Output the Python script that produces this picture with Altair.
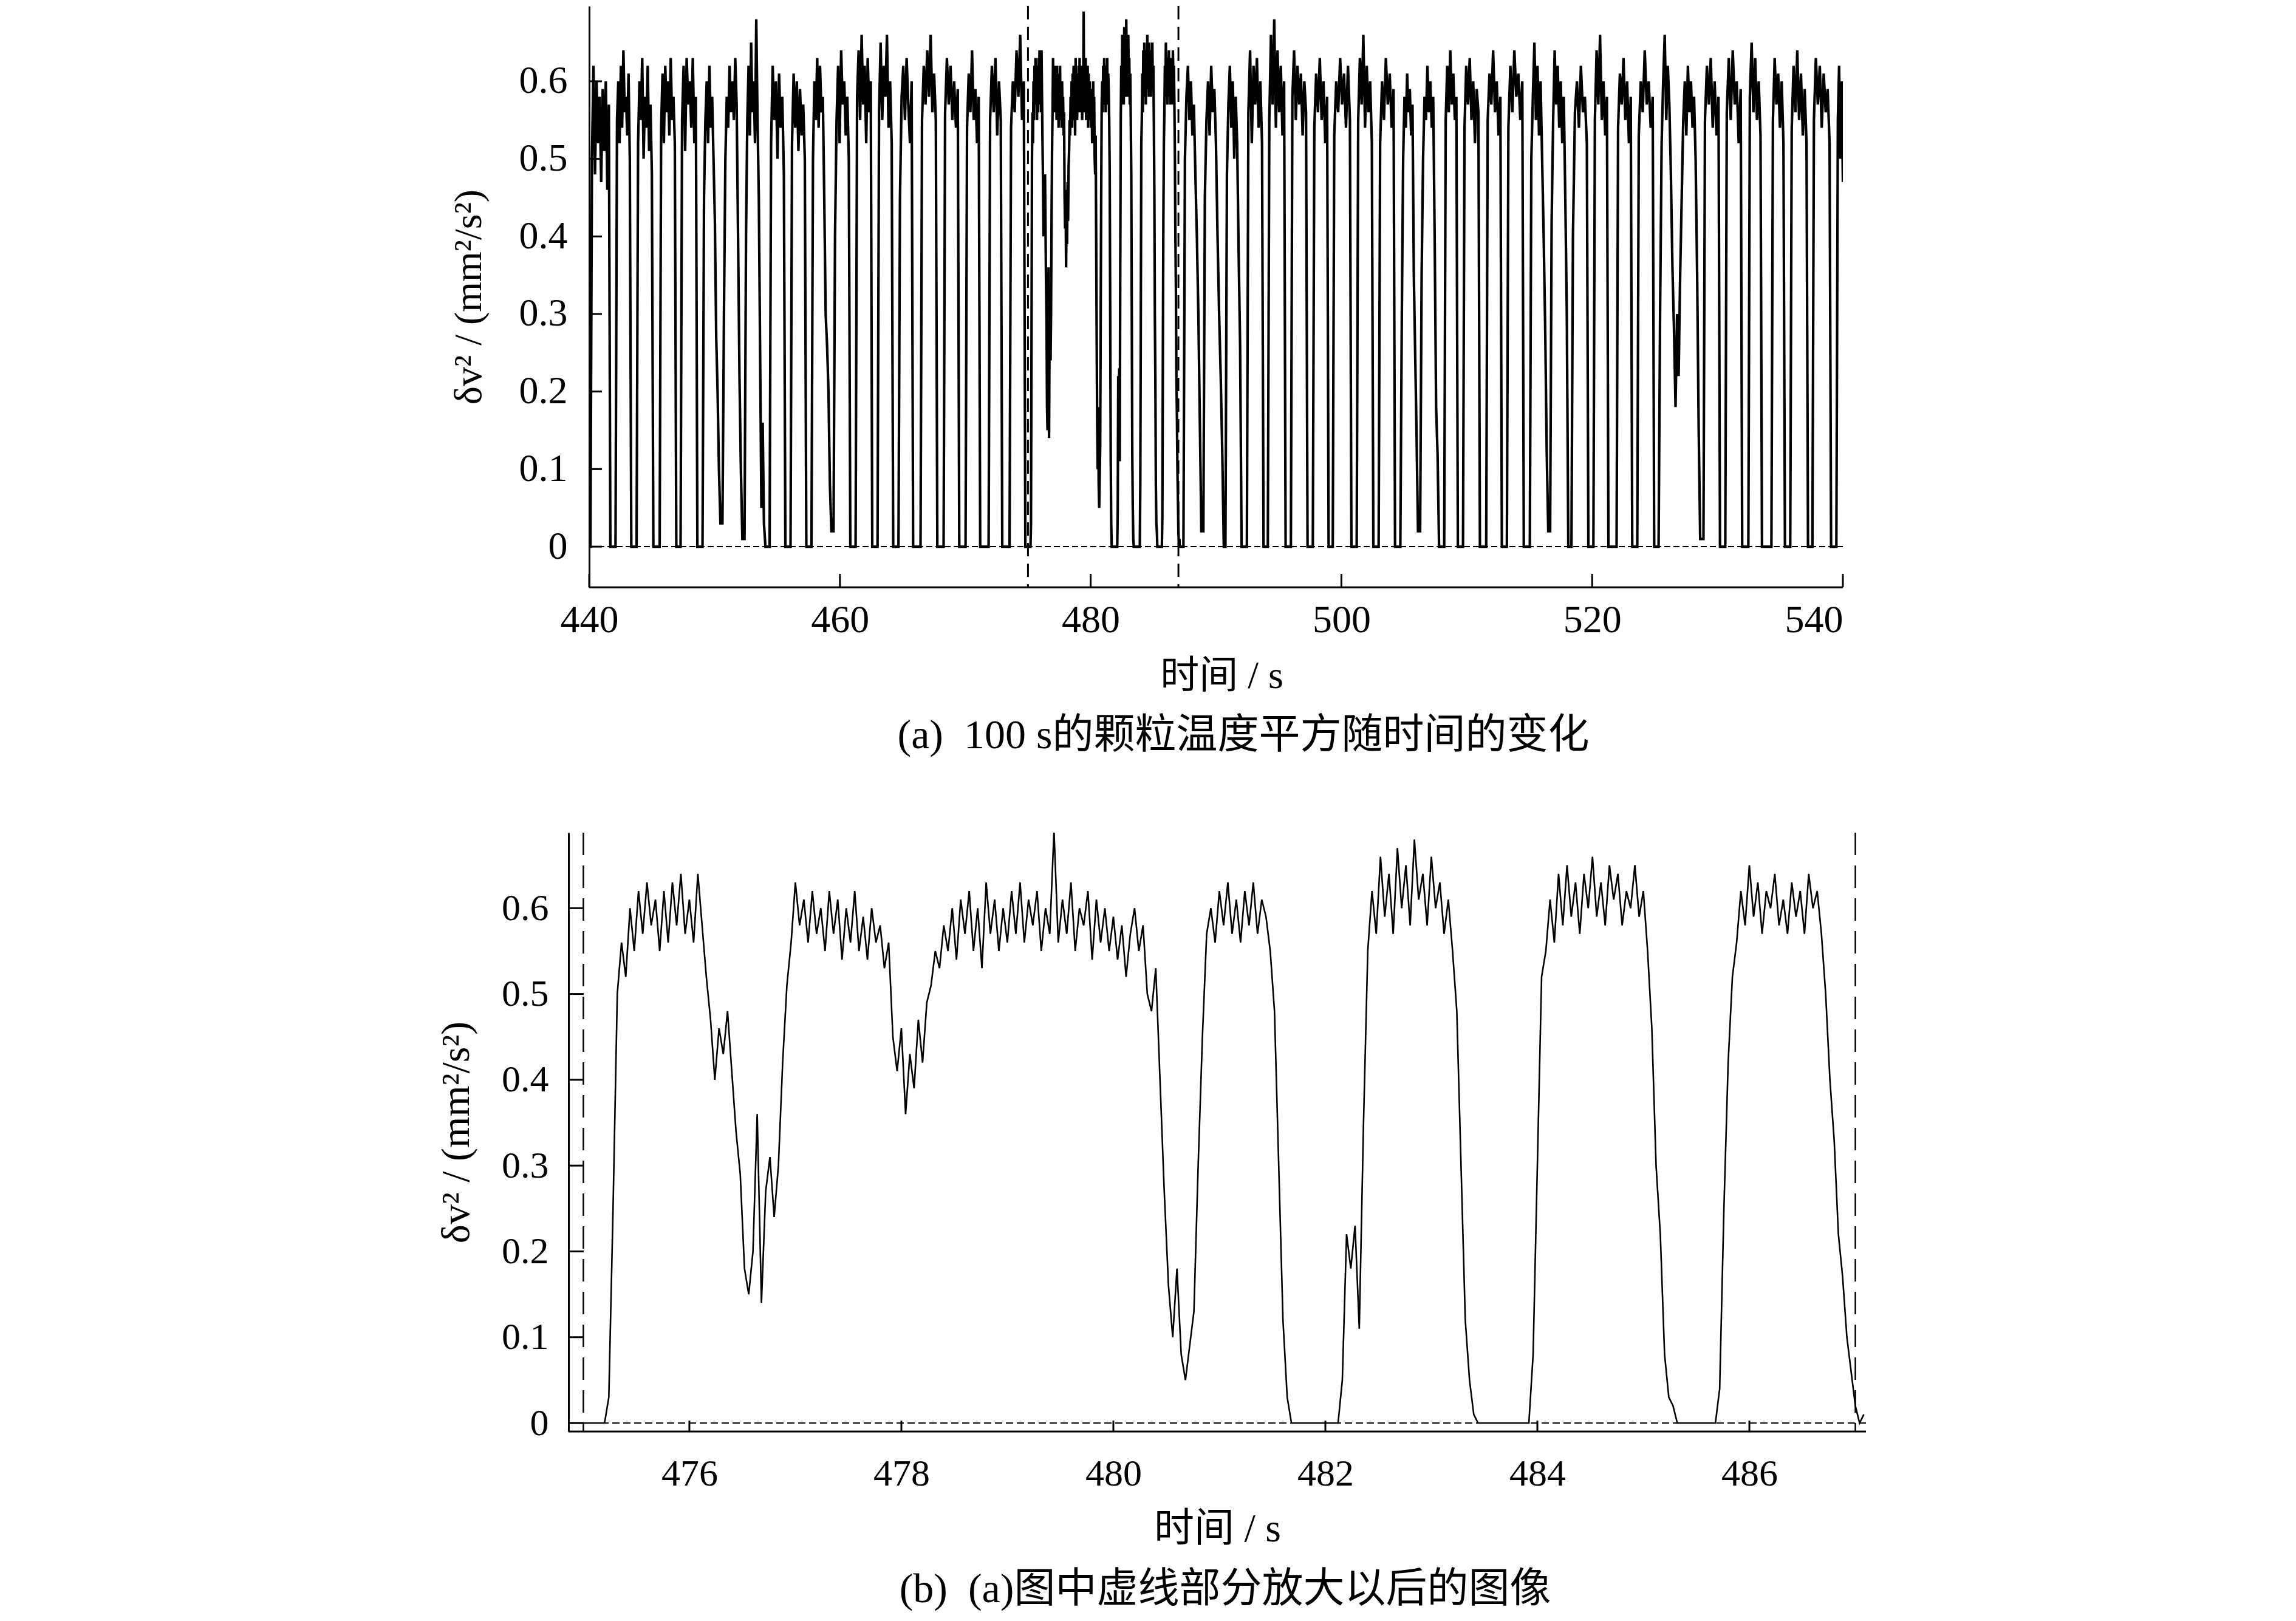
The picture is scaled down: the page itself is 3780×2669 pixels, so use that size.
import altair as alt
import pandas as pd

# ---------------- data ----------------
# panel (b): δv² in 0.01 mm²/s², sampled every 0.04 s starting at 474.88 s
b_t0 = 474.88
b_dt = 0.04
b_vals = [
    0, 0, 0, 0, 0, 0, 0, 0, 0, 3, 25, 50, 56, 52, 60, 55, 62, 57, 63, 58, 61, 55, 62, 56, 63,
    58, 64, 57, 61, 56, 64, 58, 52, 47, 40, 46, 43, 48, 41, 34, 29, 18, 15, 20, 36, 14, 27, 31, 24, 30,
    42, 51, 56, 63, 58, 61, 56, 62, 57, 60, 55, 62, 57, 61, 54, 60, 56, 62, 55, 59, 54, 60, 56, 58, 53,
    56, 45, 41, 46, 36, 43, 39, 47, 42, 49, 51, 55, 53, 58, 55, 60, 54, 61, 57, 62, 55, 60, 53, 63, 57,
    61, 55, 60, 56, 62, 57, 63, 56, 61, 58, 62, 55, 60, 57, 69, 56, 61, 57, 63, 55, 60, 58, 62, 54, 61,
    56, 60, 55, 59, 54, 58, 52, 57, 60, 55, 58, 50, 48, 53, 40, 27, 16, 10, 18, 8, 5, 9, 13, 30, 45,
    57, 60, 56, 62, 58, 63, 57, 61, 56, 62, 58, 63, 57, 61, 59, 55, 48, 30, 12, 3, 0, 0, 0, 0, 0,
    0, 0, 0, 0, 0, 0, 0, 5, 22, 18, 23, 11, 35, 55, 62, 57, 66, 59, 64, 57, 67, 60, 65, 58, 68,
    61, 64, 58, 66, 60, 63, 57, 61, 55, 48, 30, 12, 5, 1, 0, 0, 0, 0, 0, 0, 0, 0, 0, 0, 0,
    0, 0, 8, 30, 52, 55, 61, 56, 64, 58, 65, 59, 63, 57, 64, 60, 66, 59, 63, 58, 65, 61, 64, 58, 62,
    60, 65, 59, 62, 55, 46, 30, 22, 8, 3, 2, 0, 0, 0, 0, 0, 0, 0, 0, 0, 0, 4, 25, 42, 52,
    56, 62, 58, 65, 59, 63, 57, 62, 60, 64, 58, 61, 57, 63, 59, 62, 57, 64, 60, 62, 57, 50, 40, 33, 22,
    17, 10, 6, 2, 0, 1,
]

# panel (a), 440–475 s: troughs (start, end, floor in 0.01) and plateau samples between them
a1_start = [440.00, 441.69, 443.36, 445.12, 446.95, 448.63, 450.47, 452.22, 454.06, 455.65,
            457.32, 459.32, 460.83, 462.58, 464.25, 465.84, 467.77, 469.52, 471.19, 472.95, 474.79]
a1_end = [440.10, 442.10, 443.78, 445.62, 447.29, 449.04, 450.63, 452.39, 454.39, 456.06,
          457.73, 459.49, 461.25, 463.00, 464.67, 466.43, 468.27, 470.02, 471.86, 473.53, 474.84]
a1_floor = [0, 0, 0, 0, 0, 0, 3, 1, 0, 0, 0, 2, 0, 0, 0, 0, 0, 0, 0, 0, 0]
a1_plateau = [
    [50, 62, 48, 60, 52, 58, 47, 59, 51, 60, 46, 57],
    [55, 60, 52, 62, 54, 64, 56, 58, 53, 61, 50],
    [52, 60, 55, 63, 50, 58, 54, 62, 51, 57, 48],
    [54, 61, 52, 62, 56, 60, 53, 63, 55, 58, 52],
    [55, 62, 51, 63, 57, 60, 54, 63, 52, 58],
    [45, 55, 60, 52, 62, 54, 58, 50, 42, 27, 20, 10],
    [30, 50, 58, 54, 62, 56, 60, 55, 63, 57, 40, 22, 10],
    [40, 55, 62, 53, 65, 56, 60, 52, 68, 55, 45, 25, 5, 16, 3],
    [52, 62, 55, 60, 50, 61, 54, 58, 48],
    [52, 61, 54, 60, 51, 59, 53, 57, 50],
    [50, 60, 55, 63, 54, 62, 56, 58, 45, 30, 26, 20, 8],
    [40, 55, 62, 52, 64, 57, 60, 53, 58, 50],
    [58, 64, 55, 66, 57, 62, 52, 63, 56, 60],
    [56, 65, 55, 62, 58, 66, 54, 60, 52],
    [45, 58, 62, 55, 63, 57, 52, 60],
    [55, 62, 57, 64, 58, 66, 56, 61, 55],
    [56, 63, 57, 62, 55, 60, 54, 59],
    [54, 61, 56, 64, 55, 59, 52, 58],
    [55, 62, 56, 63, 53, 60, 55],
    [54, 60, 56, 64, 58, 66, 55, 60],
]

# panel (a), 487–540 s
a2_start = [487.10, 488.83, 490.62, 492.04, 493.79, 495.55, 497.30, 498.98, 500.80, 502.55,
            504.28, 506.11, 507.79, 509.29, 511.05, 512.80, 514.55, 516.50, 518.10, 519.70,
            521.30, 523.20, 524.95, 528.62, 530.20, 531.97, 533.55, 535.38, 537.22, 539.06]
a2_end = [487.40, 488.99, 490.75, 492.46, 494.13, 495.97, 497.72, 499.31, 501.22, 502.97,
          504.70, 506.28, 508.20, 509.70, 511.55, 513.20, 515.03, 516.65, 518.35, 520.10,
          521.95, 523.60, 525.30, 528.88, 530.62, 532.46, 534.30, 535.80, 537.57, 539.48]
a2_floor = [0, 2, 0, 0, 0, 0, 0, 0, 0, 0, 0, 2, 0, 0, 0, 0, 0, 2, 0, 0, 0, 0, 0, 1, 0, 0, 0, 0, 0, 0]
a2_plateau = [
    [50, 58, 62, 55, 60, 53, 57, 48, 40, 30, 16],
    [45, 55, 60, 53, 62, 56, 59, 52, 40, 30, 22, 12],
    [48, 57, 62, 54, 60, 50, 58, 52, 38, 26],
    [56, 64, 52, 62, 57, 63, 54, 60, 52],
    [55, 66, 57, 68, 54, 64, 56, 62, 53, 60],
    [58, 64, 55, 62, 57, 61, 53, 60, 56],
    [54, 61, 56, 63, 55, 60, 52, 58],
    [53, 60, 56, 63, 57, 61, 54, 62, 55],
    [55, 63, 57, 66, 54, 62, 56, 60, 52],
    [52, 60, 55, 63, 57, 61, 54, 59],
    [30, 50, 58, 54, 61, 56, 59, 53, 57, 35, 25, 15],
    [35, 50, 58, 55, 62, 56, 60, 54, 58, 40, 18, 12],
    [55, 62, 56, 64, 57, 61, 55, 58],
    [54, 62, 57, 63, 55, 60, 52, 59, 56],
    [55, 61, 57, 64, 56, 60, 53, 58],
    [54, 62, 56, 64, 58, 61, 55, 60],
    [50, 58, 65, 55, 62, 53, 60, 50, 40, 28, 12],
    [42, 55, 64, 57, 62, 54, 60, 52, 58, 45, 30],
    [40, 56, 60, 54, 62, 56, 58, 52],
    [55, 64, 57, 66, 55, 60, 53, 58],
    [54, 61, 57, 63, 55, 60, 52, 58],
    [53, 60, 56, 64, 57, 60, 54, 58],
    [30, 52, 60, 66, 55, 62, 57, 48, 36, 28, 18, 30, 22, 35, 45, 55, 60, 53, 62, 56, 60, 54, 58, 50, 35, 15],
    [55, 62, 57, 63, 54, 60, 53, 58],
    [56, 63, 55, 64, 57, 60, 52, 59],
    [58, 65, 56, 63, 55, 60, 53],
    [55, 63, 57, 61, 54, 60, 52],
    [54, 62, 56, 64, 55, 61, 53, 59, 52],
    [55, 63, 57, 62, 54, 61, 56, 59, 52],
    [55, 62, 50, 60, 47],
]
a_end_time = 540.0

dash_t = [475, 487]
a_xticks = [440, 460, 480, 500, 520, 540]
b_xticks = [476, 478, 480, 482, 484, 486]
y_ticks = [0, 0.1, 0.2, 0.3, 0.4, 0.5, 0.6]

y_title = "δv² / (mm²/s²)"
x_title = "时间 / s"
cap_a = "(a)\u00a0 100 s的颗粒温度平方随时间的变化"
cap_b = "(b)\u00a0 (a)图中虚线部分放大以后的图像"

FONT = "Liberation Serif, Noto Sans CJK SC"
RISE = 0.12


def build(starts, ends, floors, plateaus, t_end=None):
    ts, vs = [], []
    for k in range(len(starts)):
        ts += [starts[k], ends[k]]
        vs += [floors[k], floors[k]]
        if k < len(plateaus):
            t0 = ends[k] + RISE
            t1 = starts[k + 1] - RISE if k + 1 < len(starts) else t_end
            vals = plateaus[k]
            n = len(vals)
            for j, v in enumerate(vals):
                ts.append(t0 + (t1 - t0) * j / (n - 1))
                vs.append(v)
    return ts, vs


b_ts = [b_t0 + b_dt * i for i in range(len(b_vals))]
a1_t, a1_v = build(a1_start, a1_end, a1_floor, a1_plateau)
a2_t, a2_v = build(a2_start, a2_end, a2_floor, a2_plateau, a_end_time)

df_a = pd.DataFrame({"t": a1_t + b_ts + a2_t, "v": [x / 100 for x in a1_v + b_vals + a2_v]})
df_a["i"] = range(len(df_a))
df_b = pd.DataFrame({"t": b_ts, "v": [x / 100 for x in b_vals]})
df_b["i"] = range(len(df_b))


def panel(df, x_lo, x0, x1, ydom, W, H, yoff, xticks, lw, lab_size, title_size, ytitle_pad,
          ylab_pad, xlab_pad, xtitle_pad, xtitle_x, cap, cap_off, cap_dx, vdash, hdash,
          ytick_len, xtick_len, dash_w):
    px = W / (x1 - x_lo)  # pixels per second
    xs = alt.Scale(domain=[x_lo, x1], nice=False, zero=False)
    ys = alt.Scale(domain=ydom, nice=False, zero=False)
    xaxis = dict(values=xticks, title=x_title, labelPadding=xlab_pad, titlePadding=xtitle_pad,
                 labelFontSize=lab_size, titleFontSize=title_size, format="d", domain=False)
    if xtitle_x is not None:
        xaxis["titleX"] = xtitle_x
    line = alt.Chart(df).mark_line(color="black", strokeWidth=lw, clip=True).encode(
        x=alt.X("t:Q", scale=xs, axis=alt.Axis(**xaxis)),
        y=alt.Y("v:Q", scale=ys, axis=alt.Axis(
            values=y_ticks, title=y_title, format=".1~f", labelFontSize=lab_size,
            titleFontSize=title_size, titlePadding=ytitle_pad, labelPadding=ylab_pad,
            offset=yoff)),
        order="i:Q",
    )
    frame = pd.DataFrame({"t": [x0], "t2": [x1], "v": [0]})
    xline = alt.Chart(frame).mark_rule(color="black", strokeWidth=3).encode(
        x="t:Q", x2="t2:Q", y=alt.value(H))
    hd = alt.Chart(frame).mark_rule(color="black", strokeWidth=2, strokeDash=hdash).encode(
        x="t:Q", x2="t2:Q", y="v:Q")
    vd = alt.Chart(pd.DataFrame({"t": dash_t})).mark_rule(
        color="black", strokeWidth=dash_w, strokeDash=vdash).encode(
        x="t:Q", y=alt.value(0), y2=alt.value(H))
    ytk = alt.Chart(pd.DataFrame({"v": y_ticks, "t": x0, "t2": x0 + ytick_len / px})).mark_rule(
        color="black", strokeWidth=3).encode(y="v:Q", x="t:Q", x2="t2:Q")
    xtk = alt.Chart(pd.DataFrame({"t": xticks})).mark_rule(
        color="black", strokeWidth=3).encode(
        x="t:Q", y=alt.value(H), y2=alt.value(H - xtick_len))
    return alt.layer(line, xline, vd, hd, ytk, xtk).properties(
        width=W, height=H,
        title=alt.TitleParams(cap, orient="bottom", anchor="middle", frame="group",
                              font=FONT, fontSize=68, fontWeight="normal", color="black",
                              offset=cap_off, dx=cap_dx),
    )


# panel (a): plot 2064 px for 440–540 s; the group starts 34 px further left so that it
# lines up with panel (b), whose axis sits 34 px left of panel (a)'s axis.
A_PX = 2064 / 100
A_SHIFT = 34
pa = panel(df_a, 440 - A_SHIFT / A_PX, 440, 540, [-0.0524, 0.697], 2064 + A_SHIFT, 957, -A_SHIFT,
           a_xticks, 4.2, 64, 64, 50, 36, 22, 28, 1075, cap_a, 33, 62, [22, 12], [10, 5], 21, 22, 3)
pb = panel(df_b, 474.86, 474.86, 487.1, [-0.0099, 0.688], 2136, 986, 0,
           b_xticks, 2.6, 62, 66, 40, 33, 39, 28, None, cap_b, 34, 13, [37, 17], [12, 6], 25, 18, 2.5)

chart = alt.vconcat(pa, pb, spacing=123).properties(
    padding={"left": 710, "top": 0, "right": 10, "bottom": 10}, background="white"
).configure_view(stroke=None).configure_axis(
    domainColor="black", domainWidth=3, ticks=False, grid=False,
    labelFont="Liberation Serif", labelColor="black", titleFont=FONT, titleColor="black",
    titleFontWeight="normal",
)

chart.save("out.html", embed_options={"renderer": "svg", "actions": False})
